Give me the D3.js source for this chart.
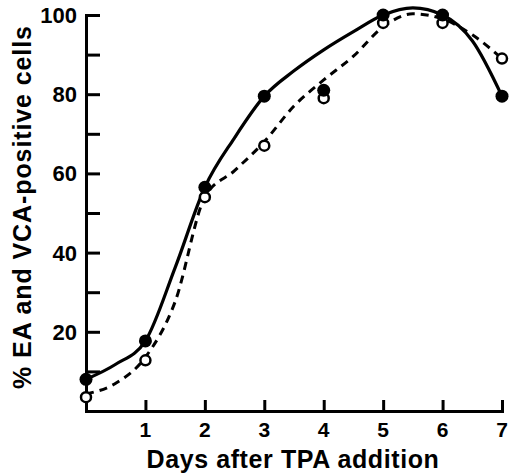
<!DOCTYPE html>
<html>
<head>
<meta charset="UTF-8" />
<script src="https://d3js.org/d3.v7.min.js"></script>
<style>
  body { margin: 0; background: #fff; }
  text { font-family: "Liberation Sans", Arial, sans-serif; font-weight: bold; fill: #000; }
</style>
</head>
<body>
<div class="canvas"></div>
<script>
const days = [0, 1, 2, 3, 4, 5, 6, 7];
const filledPct = [8, 17.7, 56.5, 79.5, 81, 100, 100, 79.5];
const openPct = [3.5, 12.8, 54, 67, 79, 98, 98, 89];

// smooth curves at half-day steps
const fitDays = [0, 0.5, 1, 1.5, 2, 2.5, 3, 3.5, 4, 4.5, 5, 5.5, 6, 6.5, 7];
const solidFit = [8, 11.8, 17.7, 36.2, 56.5, 69, 79.5, 85.9, 91.2, 95.8, 100, 101.8, 100, 93.5, 79.5];
const dashedFit = [4.3, 7, 13.6, 27.6, 54, 60.7, 68, 77, 83.6, 89.6, 97, 100.3, 99, 95, 89];

const yTicks = [20, 40, 60, 80, 100];
const yMinor = [10, 30, 50, 70, 90];
const xTicks = [1, 2, 3, 4, 5, 6, 7];

const width = 510, height = 476;
const svg = d3.select(".canvas").append("svg")
  .attr("width", width).attr("height", height);

const x = d3.scaleLinear().domain([0, 7]).range([86, 502]);
const y = d3.scaleLinear().domain([0, 100]).range([411, 15]);

// axes, ticks pointing into the plot
const yAxis = d3.axisRight(y).tickValues(yTicks.concat(yMinor)).tickSize(14).tickFormat("");
const yg = svg.append("g").attr("transform", `translate(${x(0)},0)`).call(yAxis);
const xAxis = d3.axisTop(x).tickValues(xTicks).tickSize(11).tickFormat("");
const xg = svg.append("g").attr("transform", `translate(0,${y(0)})`).call(xAxis);
[yg, xg].forEach(g => {
  g.select(".domain").attr("stroke", "#000").attr("stroke-width", 3);
  g.selectAll(".tick line").attr("stroke", "#000").attr("stroke-width", 3);
});

svg.append("g").selectAll("text").data(yTicks).join("text")
  .attr("x", 77).attr("y", d => y(d) + 8)
  .attr("text-anchor", "end").style("font-size", "22px")
  .text(d => d);

svg.append("g").selectAll("text").data(xTicks).join("text")
  .attr("x", d => x(d)).attr("y", 437)
  .attr("text-anchor", "middle").style("font-size", "21px")
  .text(d => d);

svg.append("text").attr("x", 293).attr("y", 468)
  .attr("text-anchor", "middle").style("font-size", "25px")
  .style("letter-spacing", "0.6px")
  .text("Days after TPA addition");

svg.append("text")
  .attr("transform", "translate(31,207) rotate(-90)")
  .attr("text-anchor", "middle").style("font-size", "25px")
  .style("letter-spacing", "0.9px")
  .text("% EA and VCA-positive cells");

// curves
const line = d3.line().x(d => x(d[0])).y(d => y(d[1])).curve(d3.curveMonotoneX);
svg.append("path")
  .attr("d", line(fitDays.map((d, i) => [d, solidFit[i]])))
  .attr("fill", "none").attr("stroke", "#000").attr("stroke-width", 3.2);
svg.append("path")
  .attr("d", line(fitDays.map((d, i) => [d, dashedFit[i]])))
  .attr("fill", "none").attr("stroke", "#000").attr("stroke-width", 3)
  .attr("stroke-dasharray", "8,6");

// markers
svg.append("g").selectAll("circle").data(days).join("circle")
  .attr("cx", d => x(d)).attr("cy", (d, i) => y(openPct[i])).attr("r", 5)
  .attr("fill", "#fff").attr("stroke", "#000").attr("stroke-width", 2.5);
svg.append("g").selectAll("circle").data(days).join("circle")
  .attr("cx", d => x(d)).attr("cy", (d, i) => y(filledPct[i])).attr("r", 6.5)
  .attr("fill", "#000");
</script>
</body>
</html>
